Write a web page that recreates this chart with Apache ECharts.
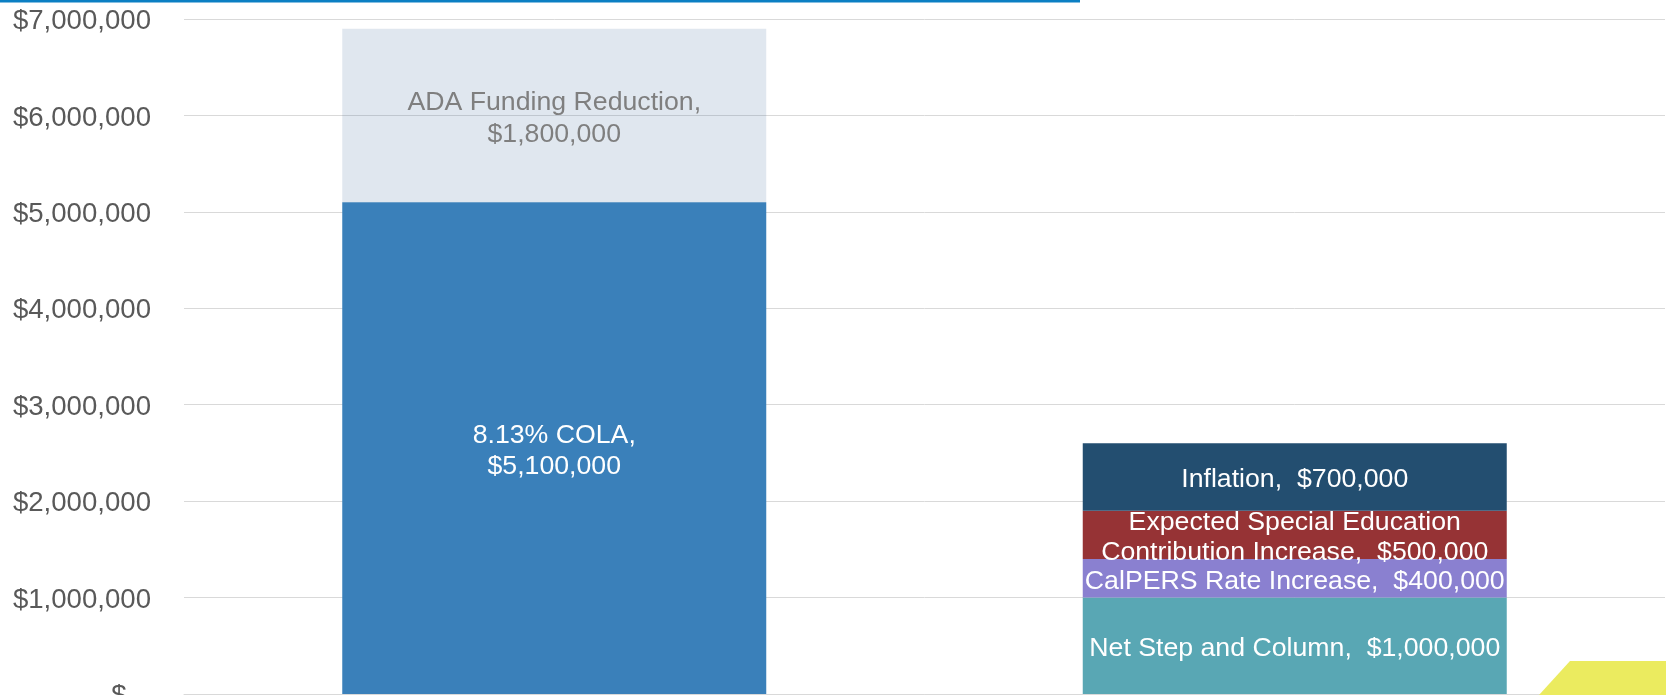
<!DOCTYPE html>
<html>
<head>
<meta charset="utf-8">
<title>Budget changes</title>
<script src="https://cdn.jsdelivr.net/npm/echarts@6/dist/echarts.min.js"></script>
<style>
  html, body { margin: 0; padding: 0; background: #fff; }
  #chart { width: 1666px; height: 695px; }
</style>
</head>
<body>
<div id="chart"></div>
<script>
// data
const categories = ['Revenue', 'Costs'];
const yTicks = [0, 1000000, 2000000, 3000000, 4000000, 5000000, 6000000, 7000000];

const colaValues = [5100000, '-'];
const adaValues = [1800000, '-'];
const netStepValues = ['-', 1000000];
const calpersValues = ['-', 400000];
const specialEdValues = ['-', 500000];
const inflationValues = ['-', 700000];

const seriesNames = [
  '8.13% COLA',
  'ADA Funding Reduction',
  'Net Step and Column',
  'CalPERS Rate Increase',
  'Expected Special Education\nContribution Increase',
  'Inflation'
];

const FONT = '"Liberation Sans", Arial, sans-serif';

function money(v) {
  if (v === 0) return '$ - ';
  return '$' + v.toLocaleString('en-US');
}

const chart = echarts.init(document.getElementById('chart'));

function seg(name, data, color, sep, textColor, lineHeight) {
  return {
    name: name,
    type: 'bar',
    stack: 'total',
    data: data,
    barWidth: 424,
    itemStyle: { color: color },
    label: {
      show: true,
      position: 'inside',
      offset: [0, 3],
      color: textColor,
      fontFamily: FONT,
      fontSize: 26.7,
      lineHeight: lineHeight,
      formatter: function (p) {
        return name + ',' + sep + money(p.value);
      }
    },
    emphasis: { disabled: true }
  };
}

const option = {
  animation: false,
  grid: { left: 184, right: 1, top: 19, bottom: 1, outerBoundsMode: 'none', containLabel: false },
  xAxis: {
    type: 'category',
    data: categories,
    axisLabel: { show: false },
    axisTick: { show: false },
    axisLine: { show: true, lineStyle: { color: '#d9d9d9', width: 1 } }
  },
  yAxis: {
    type: 'value',
    min: yTicks[0],
    max: yTicks[yTicks.length - 1],
    interval: 1000000,
    axisLine: { show: false },
    axisTick: { show: false },
    splitLine: { lineStyle: { color: '#d9d9d9', width: 1 } },
    axisLabel: {
      margin: 33,
      formatter: function (v) { return '{t|' + money(v) + '}'; },
      rich: {
        t: {
          color: '#595959',
          fontFamily: FONT,
          fontSize: 27.6,
          padding: [5, 0, 0, 0]
        }
      }
    }
  },
  series: [
    seg(seriesNames[0], colaValues, '#3a80ba', '\n', '#ffffff', 31.5),
    seg(seriesNames[1], adaValues, 'rgba(70,115,160,0.17)', '\n', '#7f7f7f', 32),
    seg(seriesNames[2], netStepValues, '#59a7b4', '  ', '#ffffff', 30),
    seg(seriesNames[3], calpersValues, '#8a80d0', '  ', '#ffffff', 30),
    seg(seriesNames[4], specialEdValues, '#963335', '  ', '#ffffff', 30),
    seg(seriesNames[5], inflationValues, '#234e70', '  ', '#ffffff', 30)
  ],
  graphic: [
    // blue rule across the top
    { type: 'rect', left: 0, top: 0, shape: { width: 1080, height: 2.5 }, style: { fill: '#0b7fc3' }, z: 10 },
    // yellow corner tab
    {
      type: 'polygon',
      shape: { points: [[1570, 661], [1666, 661], [1666, 695], [1539, 695]] },
      style: { fill: '#ebeb5f' },
      z: 10
    }
  ]
};

chart.setOption(option);
</script>
</body>
</html>
